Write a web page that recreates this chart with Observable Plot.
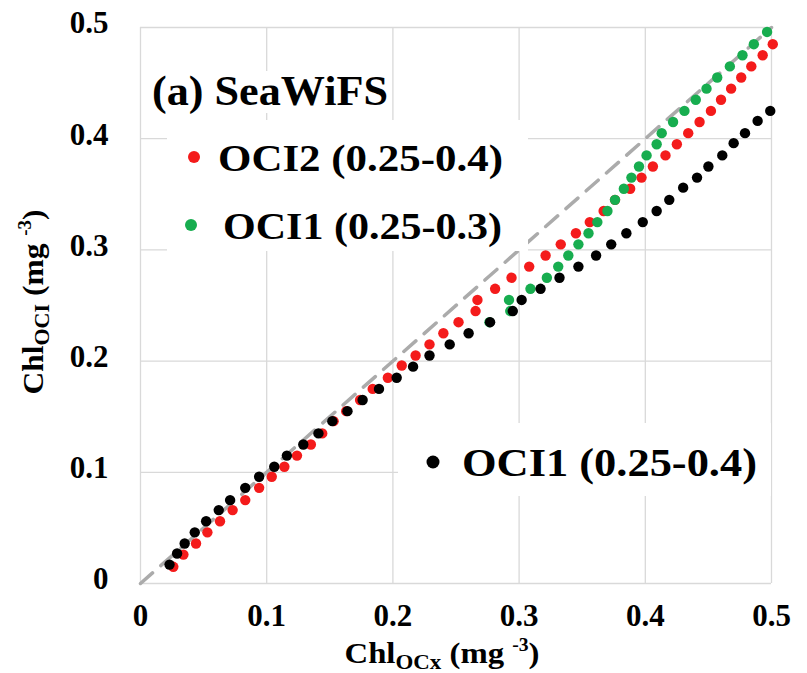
<!DOCTYPE html>
<html>
<head>
<meta charset="utf-8">
<script src="https://cdn.jsdelivr.net/npm/d3@7"></script>
<script src="https://cdn.jsdelivr.net/npm/@observablehq/plot@0.6"></script>
<style>
  body { margin: 0; background: #fff; }
  #chart { width: 807px; height: 673px; }
  #chart svg, #chart svg text { font-family: "Liberation Serif", "Times New Roman", "DejaVu Serif", serif !important; }
</style>
</head>
<body>
<div id="chart"></div>
<script>
// Axis ticks shared by both axes (mg m^-3)
const ticks = [0, 0.1, 0.2, 0.3, 0.4, 0.5];
const oneToOne = [0, 0.5];

// OCI2 (0.25-0.4)
const oci2X = [0.026, 0.034, 0.044, 0.053, 0.063, 0.073, 0.083, 0.094, 0.104, 0.114,
  0.124, 0.135, 0.144, 0.153, 0.163, 0.174, 0.184, 0.196, 0.207, 0.218,
  0.229, 0.240, 0.252, 0.2655, 0.267, 0.281, 0.294, 0.308, 0.321, 0.333,
  0.345, 0.356, 0.367, 0.376, 0.388, 0.397, 0.406, 0.416, 0.425, 0.434,
  0.443, 0.452, 0.460, 0.468, 0.476, 0.484, 0.493, 0.501];
const oci2Y = [0.015, 0.026, 0.036, 0.046, 0.056, 0.066, 0.075, 0.086, 0.096, 0.105,
  0.115, 0.125, 0.135, 0.146, 0.155, 0.165, 0.175, 0.185, 0.196, 0.205,
  0.215, 0.225, 0.235, 0.245, 0.255, 0.265, 0.275, 0.285, 0.295, 0.305,
  0.315, 0.325, 0.335, 0.345, 0.355, 0.365, 0.375, 0.385, 0.395, 0.405,
  0.415, 0.425, 0.435, 0.445, 0.455, 0.465, 0.475, 0.485];

// OCI1 (0.25-0.3)
const oci1aX = [0.2765, 0.293, 0.292, 0.309, 0.322, 0.331, 0.339, 0.347, 0.355, 0.362,
  0.370, 0.376, 0.383, 0.389, 0.395, 0.401, 0.409, 0.413, 0.422, 0.431,
  0.440, 0.4485, 0.457, 0.467, 0.477, 0.486, 0.4965];
const oci1aY = [0.235, 0.245, 0.255, 0.265, 0.275, 0.285, 0.295, 0.305, 0.315, 0.325,
  0.335, 0.345, 0.355, 0.365, 0.375, 0.385, 0.395, 0.405, 0.415, 0.425,
  0.435, 0.445, 0.455, 0.465, 0.475, 0.485, 0.496];

// OCI1 (0.25-0.4)
const oci1bX = [0.023, 0.029, 0.035, 0.043, 0.052, 0.062, 0.071, 0.083, 0.094, 0.106,
  0.116, 0.129, 0.141, 0.152, 0.164, 0.176, 0.189, 0.203, 0.216, 0.229,
  0.245, 0.260, 0.277, 0.295, 0.302, 0.317, 0.332, 0.347, 0.361, 0.373,
  0.385, 0.398, 0.409, 0.419, 0.430, 0.441, 0.450, 0.461, 0.470, 0.479,
  0.489, 0.499];
const oci1bY = [0.017, 0.027, 0.036, 0.046, 0.056, 0.066, 0.075, 0.086, 0.096, 0.105,
  0.115, 0.125, 0.135, 0.146, 0.155, 0.165, 0.175, 0.185, 0.195, 0.205,
  0.215, 0.225, 0.235, 0.245, 0.255, 0.265, 0.275, 0.285, 0.295, 0.305,
  0.315, 0.325, 0.335, 0.345, 0.356, 0.365, 0.375, 0.385, 0.396, 0.405,
  0.416, 0.425];

const RED = "#f41b1b", GREEN = "#17ad4f", BLACK = "#000000";
const serif = "Liberation Serif, Times New Roman, DejaVu Serif, serif";
const rows = (xs, ys) => xs.map((x, i) => ({x, y: ys[i]}));
const fmt = d => String(+d.toFixed(1));

const chart = Plot.plot({
  width: 807,
  height: 673,
  marginLeft: 140,
  marginRight: 36,
  marginTop: 27,
  marginBottom: 90,
  x: {domain: [0, 0.5]},
  y: {domain: [0, 0.5]},
  style: {fontFamily: serif, background: "#fff", color: "#000"},
  marks: [
    Plot.gridX(ticks, {stroke: "#d9d9d9", strokeOpacity: 1, strokeWidth: 1.3}),
    Plot.gridY(ticks, {stroke: "#d9d9d9", strokeOpacity: 1, strokeWidth: 1.3}),
    Plot.axisX(ticks, {tickSize: 0, tickPadding: 20, fontSize: 31, fontWeight: "bold",
      tickFormat: fmt, label: null}),
    Plot.axisY(ticks, {tickSize: 0, tickPadding: 32, fontSize: 31, fontWeight: "bold",
      tickFormat: fmt, label: null, dy: -4}),
    Plot.line(oneToOne, {x: d => d, y: d => d, stroke: "#ababab", strokeWidth: 3.5,
      strokeDasharray: "16,11"}),
    Plot.dot(rows(oci2X, oci2Y), {x: "x", y: "y", r: 5.2, fill: RED}),
    Plot.dot(rows(oci1aX, oci1aY), {x: "x", y: "y", r: 5.2, fill: GREEN}),
    Plot.dot(rows(oci1bX, oci1bY), {x: "x", y: "y", r: 5.2, fill: BLACK})
  ]
});

document.getElementById("chart").appendChild(chart);

const svg = d3.select(chart);
const ann = svg.append("g")
  .attr("text-anchor", "start")
  .attr("font-weight", "bold")
  .attr("fill", "#000");

// Stretch a label horizontally to a given run length
const fit = (sel, len) => sel.attr("textLength", len).attr("lengthAdjust", "spacingAndGlyphs");

// Panel title with a tight white backing
const title = fit(ann.append("text").attr("x", 152).attr("y", 105).attr("font-size", 43)
  .text("(a) SeaWiFS"), 236);
const tb = title.node().getBBox();
ann.insert("rect", "text").attr("x", tb.x - 2).attr("y", tb.y + 4).attr("width", tb.width + 4)
  .attr("height", tb.height - 6).attr("fill", "#fff");

// Legend box for OCI2 and OCI1 (0.25-0.3)
ann.append("rect").attr("x", 167).attr("y", 120).attr("width", 361).attr("height", 131).attr("fill", "#fff");
ann.append("circle").attr("cx", 194).attr("cy", 157).attr("r", 6).attr("fill", RED);
fit(ann.append("text").attr("x", 218).attr("y", 171).attr("font-size", 38).text("OCI2 (0.25-0.4)"), 285);
ann.append("circle").attr("cx", 191).attr("cy", 225).attr("r", 6).attr("fill", GREEN);
fit(ann.append("text").attr("x", 223).attr("y", 239).attr("font-size", 38).text("OCI1 (0.25-0.3)"), 279);

// Legend box for OCI1 (0.25-0.4)
ann.append("rect").attr("x", 398).attr("y", 423).attr("width", 373).attr("height", 73).attr("fill", "#fff");
ann.append("circle").attr("cx", 433).attr("cy", 462).attr("r", 6.5).attr("fill", BLACK);
fit(ann.append("text").attr("x", 462).attr("y", 476).attr("font-size", 40).text("OCI1 (0.25-0.4)"), 295);

// Axis titles with sub/superscripts
function axisTitle(g, sub, len) {
  const t = g.append("text").attr("text-anchor", "middle").attr("font-size", 30);
  t.append("tspan").text("Chl");
  t.append("tspan").attr("font-size", 21).attr("dy", 6).text(sub);
  t.append("tspan").attr("dy", -6).text(" (mg ");
  t.append("tspan").attr("font-size", 18).attr("dy", -12).text("-3");
  t.append("tspan").attr("dy", 12).text(")");
  return fit(t, len);
}
axisTitle(ann.append("g").attr("transform", "translate(442,663)"), "OCx", 195);
axisTitle(ann.append("g").attr("transform", "translate(43,302) rotate(-90)"), "OCI", 185);
</script>
</body>
</html>
